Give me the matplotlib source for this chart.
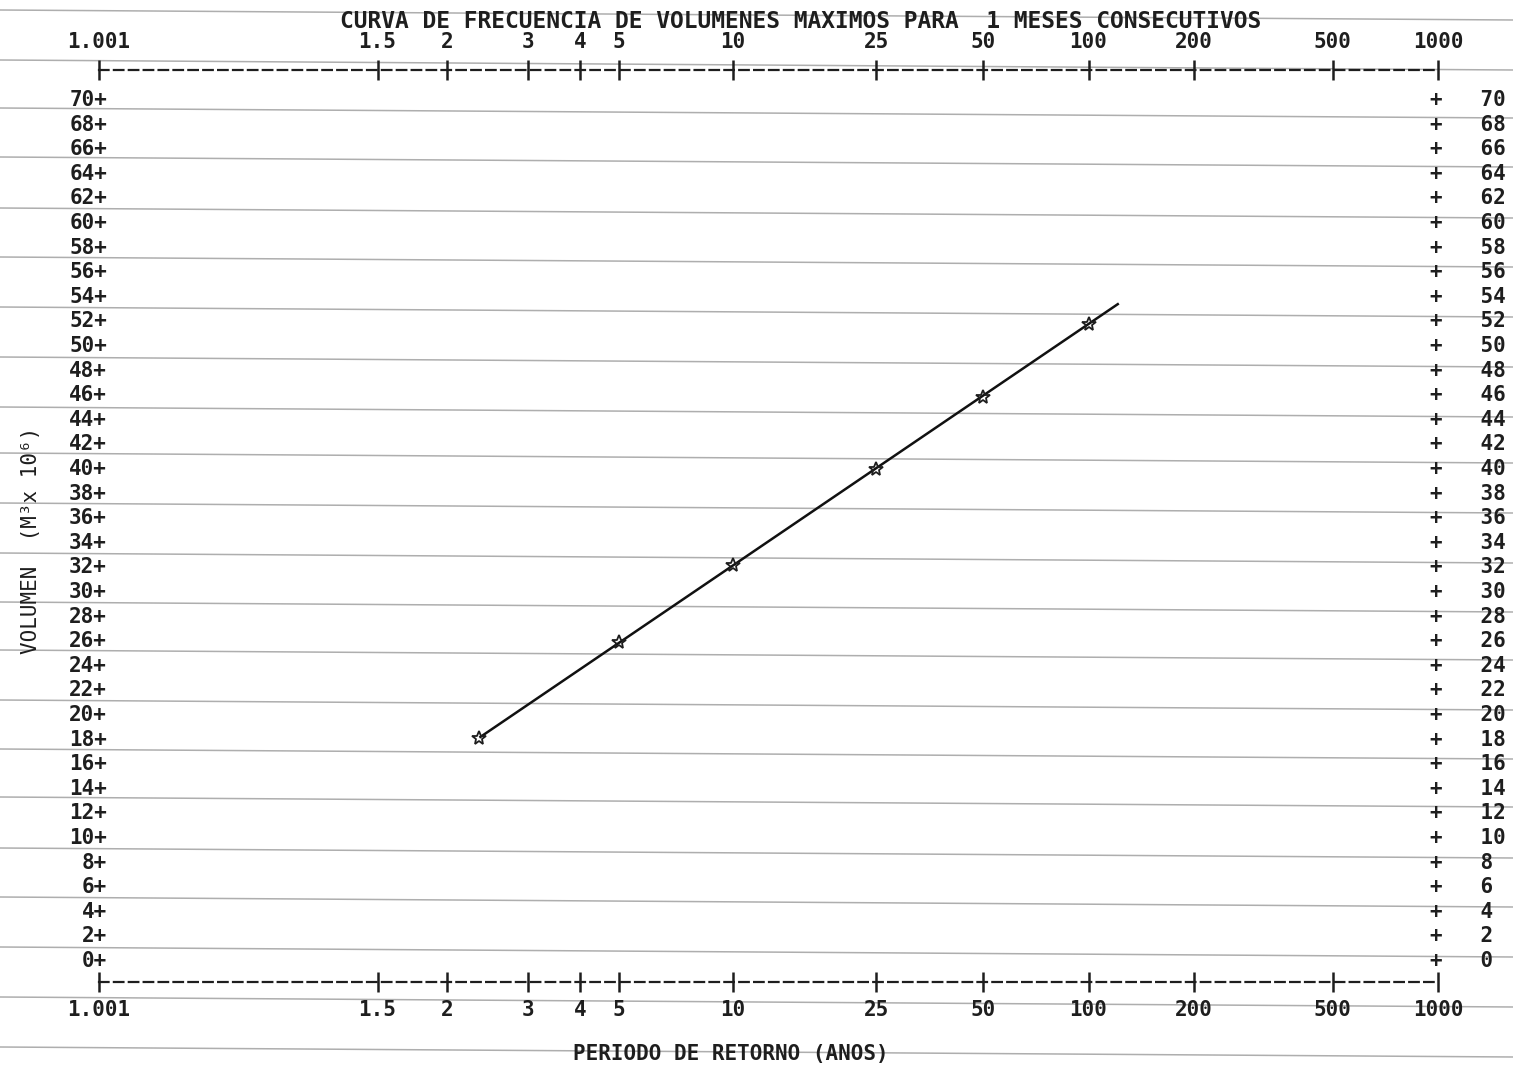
import numpy as np
import matplotlib
matplotlib.use('Agg')
import matplotlib.pyplot as plt
from matplotlib.lines import Line2D

# datos (periodo de retorno en anos, volumen en M3 x 10^6)
periods = [2.33, 5, 10, 25, 50, 100]
volumes = [18.0, 25.8, 32.0, 39.8, 45.7, 51.6]
fit_periods = [2.33, 122]
fit_volumes = [18.0, 53.3]

x_ticks = [1.001, 1.5, 2, 3, 4, 5, 10, 25, 50, 100, 200, 500, 1000]
x_labels = ['1.001', '1.5', '2', '3', '4', '5', '10', '25', '50', '100', '200', '500', '1000']
y_ticks = list(range(0, 71, 2))

title = 'CURVA DE FRECUENCIA DE VOLUMENES MAXIMOS PARA  1 MESES CONSECUTIVOS'
xlabel = 'PERIODO DE RETORNO (ANOS)'
ylabel = 'VOLUMEN  (M\u00b3x 10\u2076)'

# lineas del papel continuo (pixeles, lado izquierdo)
paper_rows = [10, 60, 108, 157, 208, 257, 307, 357, 407, 453, 503, 553, 602,
              650, 700, 749, 797, 848, 897, 947, 997, 1047]

MONO = 'DejaVu Sans Mono'
INK = '#1e1e1e'
W, H = 1513, 1070


def gumbel(t):
    t = np.asarray(t, dtype=float)
    with np.errstate(all='ignore'):
        t = np.clip(t, 1.0000001, None)
        return -np.log(-np.log(1 - 1 / t))


def gumbel_inv(y):
    y = np.asarray(y, dtype=float)
    with np.errstate(all='ignore'):
        return 1 / (1 - np.exp(-np.exp(-y)))


fig = plt.figure(figsize=(W / 100, H / 100), dpi=100)

for yl in paper_rows:
    fig.add_artist(Line2D([0, 1], [1 - yl / H, 1 - (yl + 10) / H], transform=fig.transFigure,
                          color='#9a9a9a', lw=1.1, alpha=0.8, zorder=0))

left, right, top, bottom = 99, 1438, 70, 982
ax = fig.add_axes([left / W, 1 - bottom / H, (right - left) / W, (bottom - top) / H])
ax.patch.set_alpha(0)
ax.set_xscale('function', functions=(gumbel, gumbel_inv))
ax.set_xlim(1.001, 1000)
ax.set_ylim(-1.87, 72.28)

ax.plot(fit_periods, fit_volumes, color='#111111', lw=1.8, solid_capstyle='butt')
ax.plot(periods, volumes, ls='none', marker='*', ms=10, mfc='none', mec=INK, mew=1.3)

ax.set_xticks(x_ticks, x_labels)
ax.xaxis.set_minor_locator(matplotlib.ticker.NullLocator())
ax.tick_params(axis='x', direction='inout', length=14, width=1.8, color=INK,
               top=True, bottom=True, labeltop=True, labelbottom=True, pad=6,
               labelsize=15, labelcolor=INK)
for lab in ax.get_xticklabels():
    lab.set_family(MONO)
    lab.set_weight('bold')

ax.set_yticks(y_ticks, [f'{v}+' for v in y_ticks])
ax.tick_params(axis='y', length=0, pad=-5.8, labelsize=15, labelcolor=INK)
for lab in ax.get_yticklabels():
    lab.set_family(MONO)
    lab.set_weight('bold')

for side in ['left', 'right']:
    ax.spines[side].set_visible(False)
for side in ['top', 'bottom']:
    ax.spines[side].set_linestyle((0, (4.3, 2.4)))
    ax.spines[side].set_linewidth(1.6)
    ax.spines[side].set_color(INK)

ax2 = ax.twinx()
ax2.set_ylim(ax.get_ylim())
ax2.set_yticks(y_ticks, [f'+   {v}' for v in y_ticks])
ax2.tick_params(axis='y', length=0, pad=-5.8, labelsize=15, labelcolor=INK)
for lab in ax2.get_yticklabels():
    lab.set_family(MONO)
    lab.set_weight('bold')
for s in ax2.spines.values():
    s.set_visible(False)

fig.text(801 / W, 1 - 22 / H, title, ha='center', va='center', family=MONO,
         fontsize=16.5, weight='bold', color=INK)

ax.set_xlabel(xlabel, family=MONO, fontsize=15, weight='bold', color=INK)
ax.xaxis.set_label_coords((731 - left) / (right - left), -(1044 - bottom) / (bottom - top))
ax.set_ylabel(ylabel, family=MONO, fontsize=15, color=INK)
ax.yaxis.set_label_coords(-(left - 41) / (right - left), (bottom - 540) / (bottom - top))

fig.savefig('out.png', dpi=100, facecolor='white')
